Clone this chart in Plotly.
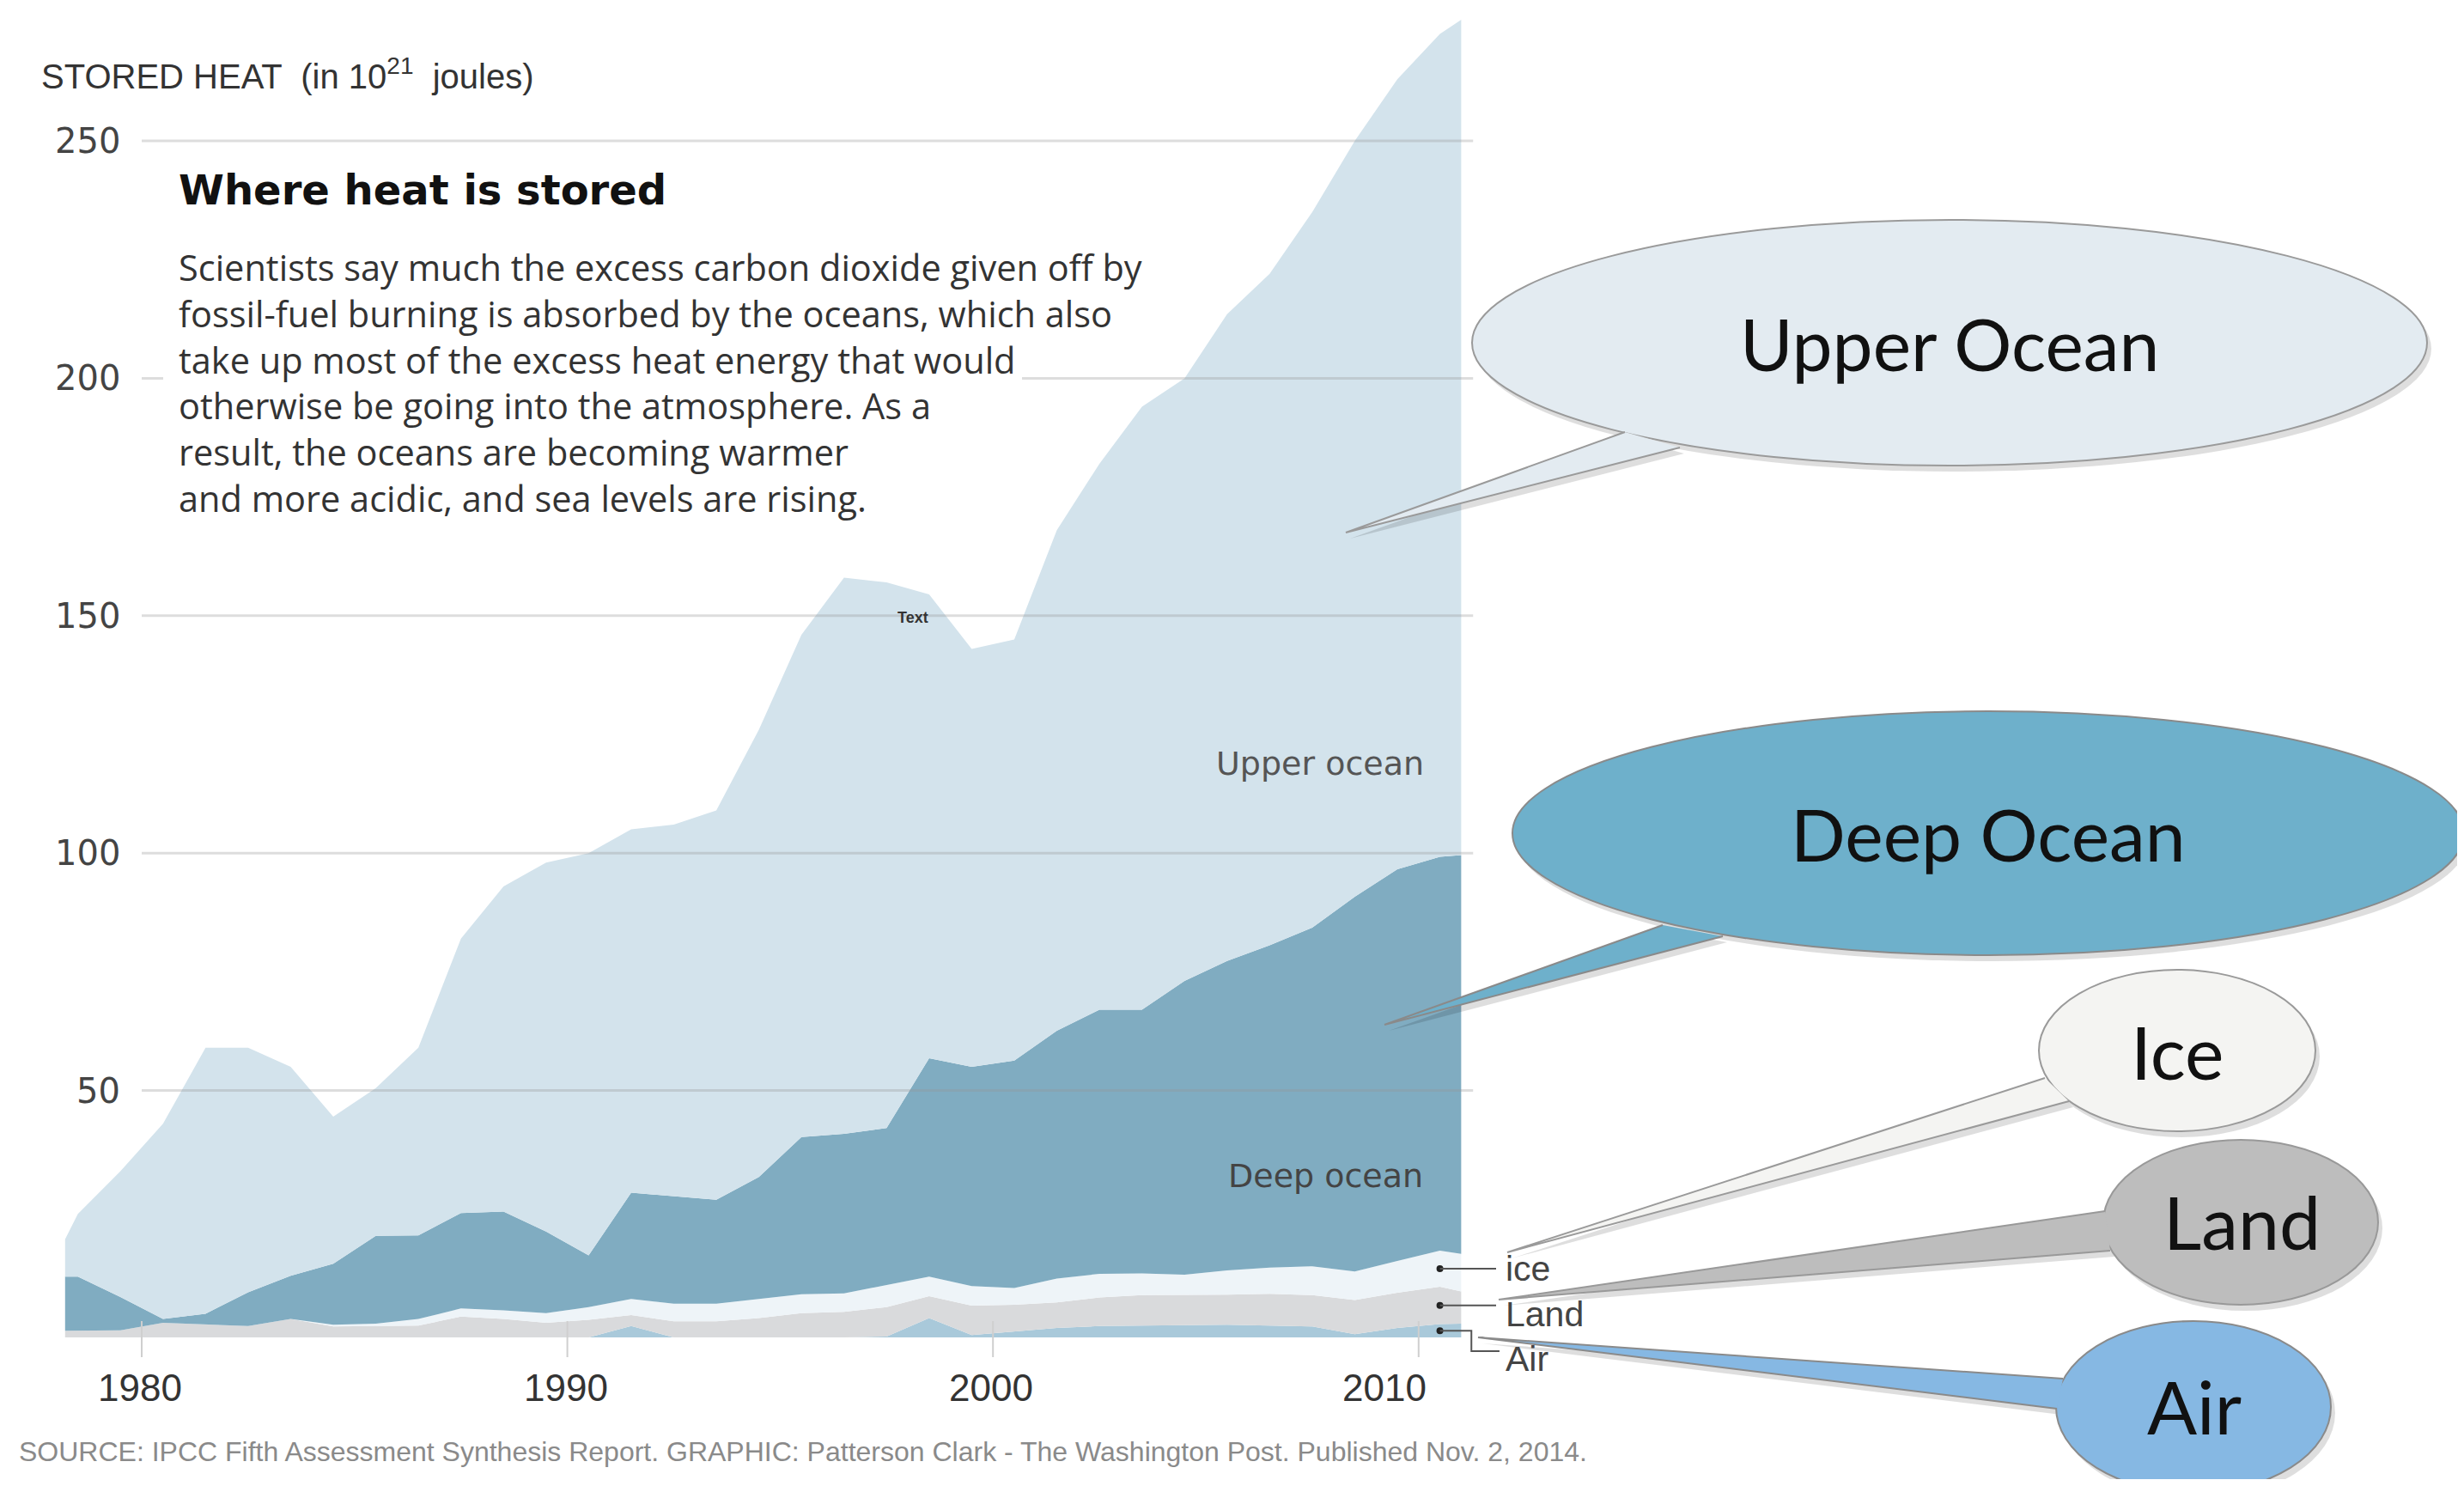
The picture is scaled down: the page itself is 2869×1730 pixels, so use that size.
import plotly.graph_objects as go

W, H = 2869, 1730          # page / screenshot size
OFF = 8                    # default body margin of the html page
FW, FH = W - 2 * OFF, H - 2 * OFF

# ---------------- data ----------------
years = [1978.2, 1978.5, 1979.5, 1980.5, 1981.5, 1982.5, 1983.5, 1984.5, 1985.5, 1986.5,
         1987.5, 1988.5, 1989.5, 1990.5, 1991.5, 1992.5, 1993.5, 1994.5, 1995.5, 1996.5,
         1997.5, 1998.5, 1999.5, 2000.5, 2001.5, 2002.5, 2003.5, 2004.5, 2005.5, 2006.5,
         2007.5, 2008.5, 2009.5, 2010.5, 2011.0]
air = [0, 0, 0, 0, 0, 0, 0, 0, 0, 0, 0, 0, 0, 0, 2.4, 0, 0, 0, 0, 0,
       0.2, 4.1, 0.5, 1.2, 2.0, 2.4, 2.5, 2.6, 2.7, 2.5, 2.3, 0.7, 2.0, 2.8, 2.9]
land = [1.4, 1.4, 1.5, 3.1, 2.7, 2.4, 3.9, 2.3, 2.4, 2.5, 4.4, 3.9, 3.1, 3.7, 2.3, 3.4, 3.4, 4.1, 5.1, 5.4,
        6.2, 4.6, 6.2, 5.7, 5.4, 6.0, 6.4, 6.3, 6.3, 6.7, 6.6, 7.2, 7.4, 7.9, 6.8]
ice = [0, 0, 0, 0, 0, 0, 0, 0.4, 0.5, 1.4, 1.7, 1.8, 2.0, 2.7, 3.4, 3.7, 3.7, 4.0, 4.0, 3.9,
       4.7, 4.1, 4.1, 3.5, 5.0, 5.0, 4.6, 4.3, 5.1, 5.5, 6.1, 6.0, 6.7, 7.6, 7.9]
deep = [11.4, 11.4, 7.0, 0.8, 2.3, 7.1, 9.1, 12.8, 18.5, 17.6, 20.1, 20.8, 17.2, 10.9, 22.4, 22.7, 21.9, 25.7, 33.1, 33.6,
        33.0, 46.0, 46.2, 47.9, 52.2, 55.6, 55.5, 61.9, 65.2, 67.9, 71.3, 78.9, 82.5, 82.9, 84.0]
upper = [7.9, 13.2, 26.5, 41.1, 56.0, 51.5, 44.0, 31.0, 31.1, 39.5, 57.8, 68.5, 77.7, 84.7, 76.5, 78.2, 82.0, 94.2, 105.8, 117.1,
         114.9, 97.7, 88.0, 88.7, 105.4, 115.0, 127.0, 126.9, 136.2, 141.4, 150.7, 159.2, 166.4, 173.3, 175.9]
BASELINE = -2.0

layer_names = ["Air", "Land", "Ice", "Deep ocean", "Upper ocean"]
layer_values = [air, land, ice, deep, upper]
layer_colors = ["#A9C9DA", "#D9DADC", "#EEF4F8", "#80ACC1", "#D3E3EC"]

x_ticks = [1980, 1990, 2000, 2010]
x_tick_labels = ["1980", "1990", "2000", "2010"]
y_ticks = [50, 100, 150, 200, 250]
y_tick_labels = ["50", "100", "150", "200", "250"]

body_lines = [
    "Scientists say much the excess carbon dioxide given off by",
    "fossil-fuel burning is absorbed by the oceans, which also",
    "take up most of the excess heat energy that would",
    "otherwise be going into the atmosphere. As a",
    "result, the oceans are becoming warmer",
    "and more acidic, and sea levels are rising.",
]

# ---------------- geometry (page pixels) ----------------
PX_YEAR, X_1980 = 49.56, 165.0
PX_UNIT, Y_ZERO = 5.528, 1546.0
X0, X1 = 1978.0, 2012.5
Y0 = -10.0
Y1 = (Y_ZERO - OFF) / PX_UNIT


def XP(x):
    return (x - OFF) / FW


def YP(y):
    return 1 - (y - OFF) / FH


dom_x = [XP(X_1980 + PX_YEAR * (X0 - 1980)), XP(X_1980 + PX_YEAR * (X1 - 1980))]
dom_y = [YP(Y_ZERO - PX_UNIT * Y0), 1.0]


def P(x, y):
    return f"{XP(x):.5f},{YP(y):.5f}"


def poly(pts, close=True):
    s = "M " + " L ".join(P(*p) for p in pts)
    return s + (" Z" if close else "")


SANS = "Liberation Sans, Arial, sans-serif"
BODY = "Open Sans, Liberation Sans, sans-serif"
WIDE = "DejaVu Sans, Verdana, sans-serif"
BUB = "Lato, Open Sans, sans-serif"

fig = go.Figure()

# stacked areas
fig.add_trace(go.Scatter(x=years, y=[BASELINE] * len(years), stackgroup="s", mode="lines",
                         line=dict(width=0), fillcolor="rgba(0,0,0,0)", hoverinfo="skip",
                         showlegend=False))
for name, vals, col in zip(layer_names, layer_values, layer_colors):
    fig.add_trace(go.Scatter(x=years, y=vals, name=name, stackgroup="s", mode="lines",
                             line=dict(width=0), fillcolor=col, showlegend=False))

# dots marking the small layers at 2010.5
i = years.index(2010.5)
air_mid = BASELINE + air[i] / 2
land_mid = BASELINE + air[i] + land[i] / 2
ice_mid = BASELINE + air[i] + land[i] + ice[i] / 2
fig.add_trace(go.Scatter(x=[years[i]] * 3, y=[ice_mid, land_mid, air_mid], mode="markers",
                         marker=dict(color="#222", size=8), cliponaxis=False,
                         hoverinfo="skip", showlegend=False))

shapes = []
# gridlines
for v in y_ticks:
    shapes.append(dict(type="line", xref="x", yref="y", x0=1980, x1=2011.28, y0=v, y1=v,
                       line=dict(color="rgba(150,150,150,0.32)", width=3), layer="above"))
# white text box hiding the gridline behind the paragraph
shapes.append(dict(type="rect", xref="paper", yref="paper", x0=XP(190), x1=XP(1190),
                   y0=YP(610), y1=YP(272), fillcolor="white", line=dict(width=0),
                   layer="above"))
# x ticks
for t in x_ticks:
    shapes.append(dict(type="line", xref="x", yref="y", x0=t, x1=t, y0=1.45, y1=-6.15,
                       line=dict(color="#cfcfcf", width=2), layer="above"))
# leader lines
lead_end = 2011.82
for yv in (ice_mid, land_mid):
    shapes.append(dict(type="line", xref="x", yref="y", x0=years[i], x1=lead_end, y0=yv, y1=yv,
                       line=dict(color="#555", width=2), layer="above"))
shapes.append(dict(type="path", xref="x", yref="y",
                   path=f"M {years[i]},{air_mid} L 2011.24,{air_mid} L 2011.24,-4.9 L 2011.9,-4.9",
                   line=dict(color="#555", width=2), fillcolor="rgba(0,0,0,0)", layer="above"))


def bubble(cx, cy, rx, ry, b1, b2, tip, fill, border):
    out = []
    dx, dy = 5, 7
    sh = "rgba(0,0,0,0.13)"
    out.append(dict(type="circle", xref="paper", yref="paper",
                    x0=XP(cx - rx + dx), x1=XP(cx + rx + dx),
                    y0=YP(cy + ry + dy), y1=YP(cy - ry + dy),
                    fillcolor=sh, line=dict(width=0), layer="above"))
    out.append(dict(type="path", xref="paper", yref="paper",
                    path=poly([(b1[0] + dx, b1[1] + dy), (tip[0] + dx, tip[1] + dy), (b2[0] + dx, b2[1] + dy)]),
                    fillcolor=sh, line=dict(width=0), layer="above"))
    out.append(dict(type="circle", xref="paper", yref="paper",
                    x0=XP(cx - rx), x1=XP(cx + rx), y0=YP(cy + ry), y1=YP(cy - ry),
                    fillcolor=fill, line=dict(color=border, width=2), layer="above"))
    out.append(dict(type="path", xref="paper", yref="paper", path=poly([b1, tip, b2]),
                    fillcolor=fill, line=dict(width=0), layer="above"))
    out.append(dict(type="path", xref="paper", yref="paper", path=poly([b1, tip, b2], close=False),
                    fillcolor="rgba(0,0,0,0)", line=dict(color=border, width=2), layer="above"))
    return out


shapes += bubble(2270, 399, 556, 143, (1892, 503), (1956, 521), (1567, 620), "#E3EBF1", "#9a9a9a")
shapes += bubble(2315, 970, 554, 142, (1936, 1077), (2006, 1090), (1612, 1193), "#6EB0CB", "#8a8a8a")
shapes += bubble(2535, 1223, 161, 94, (2381, 1255), (2409, 1282), (1755, 1458), "#F4F4F2", "#9a9a9a")
shapes += bubble(2609, 1423, 160, 96, (2451, 1410), (2457, 1456), (1745, 1513), "#BDBDBD", "#999999")
shapes += bubble(2554, 1638, 160, 100, (2402, 1605), (2395, 1640), (1721, 1557), "#86B8E3", "#8a8a8a")

ann = []


def A(text, x, y, size, color, family=SANS, xanchor="left", xref="paper", yref="paper", **kw):
    ann.append(dict(text=text, x=x, y=y, xref=xref, yref=yref, xanchor=xanchor, yanchor="middle",
                    showarrow=False, font=dict(size=size, color=color, family=family), **kw))


for v, lab in zip(y_ticks, y_tick_labels):
    A(lab, XP(142), v, 40, "#444", family=WIDE, xanchor="right", yref="y")
for t, lab in zip(x_ticks, x_tick_labels):
    A(lab, t, YP(1615), 44, "#333", xanchor="center", xref="x",
      xshift=(-40 if t == 2010 else -2))

A("STORED HEAT  (in 10<sup>21</sup>  joules)", XP(46), YP(86), 40, "#333")
A("<b>Where heat is stored</b>", XP(206), YP(221), 48, "#111", family=WIDE)
for k, line in enumerate(body_lines):
    A(line, XP(206), YP(311 + 53.8 * k), 41.5, "#333", family=BODY)
A("<b>Text</b>", XP(1063), YP(719), 18, "#333", xanchor="center")
A("Upper ocean", XP(1660), YP(889), 38, "#555", family=WIDE, xanchor="right")
A("Deep ocean", XP(1659), YP(1369), 38, "#444", family=WIDE, xanchor="right")
A("ice", 2012.0, ice_mid, 41, "#444", xref="x", yref="y")
A("Land", 2012.0, land_mid, 41, "#444", xref="x", yref="y", yshift=-10)
A("Air", 2012.0, -6.5, 41, "#444", xref="x", yref="y")

A("Upper Ocean", XP(2270), YP(399), 84, "#111", family=BUB, xanchor="center")
A("Deep Ocean", XP(2315), YP(970), 84, "#111", family=BUB, xanchor="center")
A("Ice", XP(2535), YP(1223), 86, "#111", family=BUB, xanchor="center")
A("Land", XP(2610), YP(1421), 86, "#111", family=BUB, xanchor="center")
A("Air", XP(2555), YP(1636), 86, "#111", family=BUB, xanchor="center")

A("SOURCE: IPCC Fifth Assessment Synthesis Report. GRAPHIC: Patterson Clark - The Washington Post. Published Nov. 2, 2014.",
  XP(20), YP(1690), 32, "#8a8a8a")

fig.update_layout(
    width=FW, height=FH, margin=dict(l=0, r=0, t=0, b=0),
    paper_bgcolor="white", plot_bgcolor="rgba(0,0,0,0)",
    xaxis=dict(range=[X0, X1], domain=dom_x, visible=False, fixedrange=True),
    yaxis=dict(range=[Y0, Y1], domain=dom_y, visible=False, fixedrange=True),
    shapes=shapes, annotations=ann, showlegend=False,
)

fig.write_html("out.html")
